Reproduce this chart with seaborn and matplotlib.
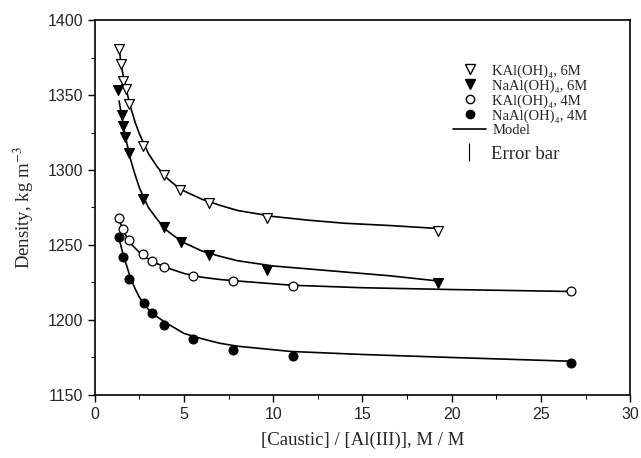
import matplotlib
matplotlib.use("Agg")
import matplotlib.pyplot as plt
from matplotlib.lines import Line2D
from matplotlib.ticker import MultipleLocator
import seaborn as sns

sns.set_style("ticks")
plt.rcParams['font.family'] = ['Liberation Serif', 'DejaVu Serif']
plt.rcParams['mathtext.fontset'] = 'stix'

# measured points: caustic/Al ratio vs density
x_k6 = [1.36, 1.46, 1.55, 1.74, 1.92, 2.71, 3.87, 4.77, 6.41, 9.63, 19.25]
y_k6 = [1381, 1370.5, 1359.5, 1354, 1344, 1316, 1296.5, 1286.7, 1278, 1268, 1259]

x_na6 = [1.31, 1.50, 1.59, 1.68, 1.91, 2.71, 3.87, 4.81, 6.41, 9.63, 19.25]
y_na6 = [1353.3, 1337, 1329.5, 1322, 1311.5, 1280.7, 1262, 1251.8, 1243.3, 1233.3, 1224.5]

x_k4 = [1.36, 1.59, 1.92, 2.71, 3.2, 3.87, 5.51, 7.72, 11.12, 26.7]
y_k4 = [1268, 1260.7, 1253.3, 1243.8, 1239.3, 1235.5, 1229.3, 1226.2, 1222.9, 1219]

x_na4 = [1.36, 1.59, 1.92, 2.75, 3.2, 3.87, 5.51, 7.72, 11.12, 26.7]
y_na4 = [1255.1, 1242.2, 1227.1, 1211.1, 1204.4, 1196.9, 1187.1, 1180, 1176.2, 1171.5]

# model curves
mx_6 = [1.36, 1.5, 1.75, 2.0, 2.25, 2.5, 3.0, 3.5, 4.0, 4.5, 5.0, 6.0, 7.0, 8.0,
        10.0, 12.0, 14.0, 16.5, 19.25]
my_k6 = [1381, 1368, 1354, 1342, 1332, 1324, 1311, 1302, 1295, 1290, 1286, 1280.5,
         1276.5, 1273, 1269, 1266.5, 1264.5, 1263, 1261]
my_na6 = [1346, 1336, 1320, 1307, 1297, 1288, 1275, 1267, 1260, 1255.5, 1251.5, 1246,
          1242.5, 1239.5, 1236, 1234, 1232, 1229.5, 1226]

mx_4 = [1.36, 1.6, 2.0, 2.25, 2.5, 3.0, 3.5, 4.0, 4.5, 5.0, 6.0, 7.0, 8.0, 11.0,
        15.0, 20.0, 26.7]
my_k4 = [1267, 1259, 1251, 1248, 1245, 1240.5, 1237.5, 1235, 1233, 1231, 1228.5,
         1227, 1226, 1223.2, 1221.5, 1220.3, 1219]
my_na4 = [1254, 1243, 1228, 1221, 1215, 1207, 1202, 1198, 1194.5, 1191, 1187.5,
          1184.5, 1182.5, 1179, 1177, 1175, 1172.5]

fig = plt.figure(figsize=(6.41, 4.58), dpi=100)
ax = fig.add_axes([0.148, 0.1376, 0.835, 0.8187])

for mx, my in [(mx_6, my_k6), (mx_6, my_na6), (mx_4, my_k4), (mx_4, my_na4)]:
    sns.lineplot(x=mx, y=my, ax=ax, color='black', linewidth=1.2, sort=False)

sns.scatterplot(x=x_k6, y=y_k6, ax=ax, marker='v', s=50, color='white',
                edgecolor='black', linewidth=0.9, zorder=3)
sns.scatterplot(x=x_na6, y=y_na6, ax=ax, marker='v', s=50, color='black',
                edgecolor='black', linewidth=0.9, zorder=3)
sns.scatterplot(x=x_k4, y=y_k4, ax=ax, marker='o', s=40, color='white',
                edgecolor='black', linewidth=0.9, zorder=3)
sns.scatterplot(x=x_na4, y=y_na4, ax=ax, marker='o', s=40, color='black',
                edgecolor='black', linewidth=0.9, zorder=3)

ax.set_xlim(0, 30)
ax.set_ylim(1150, 1400)
ax.xaxis.set_major_locator(MultipleLocator(5))
ax.xaxis.set_minor_locator(MultipleLocator(2.5))
ax.yaxis.set_major_locator(MultipleLocator(50))
ax.yaxis.set_minor_locator(MultipleLocator(25))
ax.tick_params(which='major', direction='out', length=5, width=1, color='black')
ax.tick_params(which='minor', direction='out', length=3, width=0.8, color='black')
for lab in ax.get_xticklabels() + ax.get_yticklabels():
    lab.set_family('Liberation Sans')
    lab.set_fontsize(11.5)
for sp in ax.spines.values():
    sp.set_visible(True)
    sp.set_color('black')
    sp.set_linewidth(1.2)

ax.set_xlabel('[Caustic] / [Al(III)], M / M', fontsize=13.5, labelpad=7)
ax.set_ylabel('Density, kg m$^{-3}$', fontsize=13.5, labelpad=8)

handles = [
    Line2D([], [], marker='v', linestyle='None', markersize=7, markerfacecolor='white', markeredgecolor='black'),
    Line2D([], [], marker='v', linestyle='None', markersize=7, markerfacecolor='black', markeredgecolor='black'),
    Line2D([], [], marker='o', linestyle='None', markersize=6, markerfacecolor='white', markeredgecolor='black'),
    Line2D([], [], marker='o', linestyle='None', markersize=6, markerfacecolor='black', markeredgecolor='black'),
    Line2D([], [], color='black', linewidth=1.2),
]
labels = ['KAl(OH)\u2084, 6M', 'NaAl(OH)\u2084, 6M', 'KAl(OH)\u2084, 4M',
          'NaAl(OH)\u2084, 4M', 'Model']
leg = ax.legend(handles, labels, loc='upper left', bbox_to_anchor=(0.669, 0.882),
                frameon=False, fontsize=10.5, handlelength=2.3, handletextpad=0.4,
                labelspacing=0.1, borderpad=0, borderaxespad=0)
ax.add_artist(leg)

err_handle = [Line2D([], [], marker='|', linestyle='None', markersize=13,
                     color='black', markeredgewidth=0.8)]
ax.legend(err_handle, ['Error bar'], loc='upper left', bbox_to_anchor=(0.669, 0.665),
          frameon=False, fontsize=13.5, handlelength=1.75, handletextpad=0.3,
          borderpad=0, borderaxespad=0)

fig.savefig('out.png', dpi=100)
